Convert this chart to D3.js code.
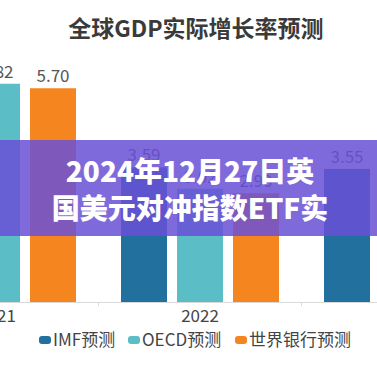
<!DOCTYPE html>
<html>
<head>
<meta charset="utf-8">
<script src="https://cdn.jsdelivr.net/npm/d3@7"></script>
<style>
  html, body { margin: 0; padding: 0; background: #fff; }
  svg { display: block; }
</style>
</head>
<body>
<svg id="chart" width="377" height="377"></svg>
<script>
// ---- data ----
const years = ["2021", "2022", "2023"];
const seriesNames = ["IMF预测", "OECD预测", "世界银行预测"];
const imfValues = [null, 3.59, 3.55];
const oecdValues = [5.82, 3.02, null];
const worldBankValues = [5.70, 2.90, null];
const seriesColors = ["#22709e", "#5bbdc5", "#f5861f"];
const titleText = "全球GDP实际增长率预测";
const overlayLines = ["2024年12月27日英", "国美元对冲指数ETF实"];

const allSeries = [imfValues, oecdValues, worldBankValues];

const svg = d3.select("#chart");
const W = 377, H = 377;
svg.append("rect").attr("width", W).attr("height", H).attr("fill", "#fff");

const font = "'Noto Sans CJK SC', 'Noto Sans', sans-serif";

// scales
const x0 = d3.scaleBand().domain(years).range([-104.5, 504.5]).padding(0);
const x1 = d3.scaleBand().domain(seriesNames).range([0, x0.bandwidth()])
  .paddingInner(0.1786).paddingOuter(0.4018);
const y = d3.scaleLinear().domain([0, 6]).range([302, 77]);

// title
svg.append("text")
  .attr("x", 196).attr("y", 37)
  .attr("text-anchor", "middle")
  .attr("font-family", font).attr("font-weight", 700)
  .attr("font-size", 23).attr("fill", "#3a3a3a")
  .text(titleText);

// bars
const g = svg.append("g");
years.forEach((yr, i) => {
  seriesNames.forEach((s, j) => {
    const v = allSeries[j][i];
    if (v == null) return;
    const bx = x0(yr) + x1(s);
    g.append("rect")
      .attr("x", bx).attr("y", y(v))
      .attr("width", x1.bandwidth()).attr("height", y(0) - y(v))
      .attr("fill", seriesColors[j]);
    g.append("text")
      .attr("x", bx + x1.bandwidth() / 2).attr("y", y(v) - 6)
      .attr("text-anchor", "middle")
      .attr("font-family", font).attr("font-size", 17)
      .attr("fill", "#555")
      .text(v.toFixed(2));
  });
});

// x axis
const axis = svg.append("g").attr("transform", `translate(0,${y(0)})`)
  .call(d3.axisBottom(x0).tickSize(0).tickPadding(8));
axis.select(".domain").attr("stroke", "#d9d9d9");
axis.selectAll("text").attr("font-family", font).attr("font-size", 17).attr("fill", "#444");
// boundary ticks between categories
years.forEach(yr => {
  const bx = x0(yr);
  axis.append("line").attr("x1", bx).attr("x2", bx).attr("y1", 0).attr("y2", 4)
    .attr("stroke", "#d9d9d9");
});

// legend
const legendX = [39, 128, 235];
const legend = svg.append("g");
seriesNames.forEach((s, j) => {
  legend.append("rect")
    .attr("x", legendX[j]).attr("y", 336)
    .attr("width", 12).attr("height", 8).attr("rx", 3)
    .attr("fill", seriesColors[j]);
  legend.append("text")
    .attr("x", legendX[j] + 14).attr("y", 346)
    .attr("font-family", font).attr("font-size", 17)
    .attr("fill", "#444")
    .text(s);
});

// overlay band
svg.append("rect")
  .attr("x", 0).attr("y", 140).attr("width", W).attr("height", 96)
  .attr("fill", "rgb(104,80,214)").attr("fill-opacity", 0.85);
overlayLines.forEach((t, i) => {
  svg.append("text")
    .attr("x", 190).attr("y", 182 + i * 37)
    .attr("text-anchor", "middle")
    .attr("font-family", font).attr("font-weight", 900)
    .attr("font-size", 28).attr("fill", "#fff")
    .text(t);
});
</script>
</body>
</html>
